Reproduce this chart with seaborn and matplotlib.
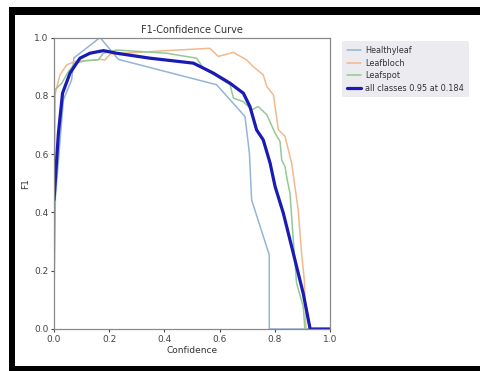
import numpy as np
import matplotlib
matplotlib.use('Agg')
import matplotlib.pyplot as plt
import pandas as pd
import seaborn as sns
from matplotlib.patches import Rectangle

# 读取的数据点 (置信度, F1)
healthy_x = [0.0, 0.005, 0.034, 0.064, 0.072, 0.167, 0.233, 0.589, 0.692, 0.708, 0.716, 0.780, 0.780, 1.0]
healthy_y = [0.10, 0.45, 0.786, 0.855, 0.930, 1.0, 0.925, 0.838, 0.729, 0.603, 0.443, 0.254, 0.0, 0.0]

bloch_x = [0.0, 0.003, 0.010, 0.022, 0.046, 0.076, 0.118, 0.167, 0.185, 0.203, 0.408, 0.565, 0.595, 0.650,
           0.698, 0.722, 0.758, 0.771, 0.795, 0.813, 0.837, 0.861, 0.885, 0.897, 0.907, 0.913, 1.0]
bloch_y = [0.60, 0.80, 0.83, 0.872, 0.906, 0.918, 0.920, 0.925, 0.923, 0.943, 0.955, 0.963, 0.935, 0.949,
           0.923, 0.900, 0.872, 0.832, 0.803, 0.683, 0.661, 0.569, 0.408, 0.260, 0.168, 0.0, 0.0]

spot_x = [0.0, 0.003, 0.028, 0.052, 0.076, 0.118, 0.160, 0.179, 0.227, 0.408, 0.517, 0.541, 0.638, 0.650,
          0.686, 0.716, 0.740, 0.771, 0.801, 0.819, 0.825, 0.837, 0.845, 0.855, 0.867, 0.879, 0.903, 0.909, 1.0]
spot_y = [0.0, 0.82, 0.843, 0.883, 0.912, 0.921, 0.923, 0.946, 0.957, 0.946, 0.929, 0.895, 0.838, 0.792,
          0.780, 0.752, 0.763, 0.735, 0.672, 0.643, 0.580, 0.557, 0.511, 0.466, 0.305, 0.157, 0.077, 0.0, 0.0]

all_x = [0.0, 0.016, 0.031, 0.058, 0.094, 0.130, 0.179, 0.227, 0.348, 0.505, 0.577, 0.638, 0.686, 0.710,
         0.734, 0.758, 0.783, 0.801, 0.831, 0.867, 0.903, 0.928, 1.0]
all_y = [0.443, 0.672, 0.809, 0.878, 0.929, 0.946, 0.955, 0.946, 0.929, 0.912, 0.878, 0.843, 0.809, 0.763,
         0.683, 0.649, 0.569, 0.489, 0.397, 0.260, 0.122, 0.0, 0.0]

labels = ['Healthyleaf', 'Leafbloch', 'Leafspot', 'all classes 0.95 at 0.184']
colors = ['#93b5d6', '#f2b98c', '#93c994', '#1a1ab4']
widths = [1.1, 1.1, 1.1, 2.3]

series = [(healthy_x, healthy_y), (bloch_x, bloch_y), (spot_x, spot_y), (all_x, all_y)]

sns.set_theme(style="white")
plt.rcParams['font.family'] = ['DejaVu Sans']

fig = plt.figure(figsize=(4.81, 3.71), dpi=100)
fig.patch.set_facecolor('white')

# 截图的黑色边框
fig.add_artist(Rectangle((9 / 481, 0), 1, (371 - 7) / 371, transform=fig.transFigure,
                         facecolor='black', edgecolor='none', zorder=-2))
fig.add_artist(Rectangle((15 / 481, 5 / 371), 1, (366 - 15) / 371, transform=fig.transFigure,
                         facecolor='white', edgecolor='none', zorder=-1))

ax = fig.add_axes([54 / 481, 42 / 371, 276 / 481, 291.5 / 371])

for (xs, ys), lab, col, lw in zip(series, labels, colors, widths):
    df = pd.DataFrame({'Confidence': xs, 'F1': ys})
    sns.lineplot(x='Confidence', y='F1', data=df, ax=ax, sort=False, estimator=None,
                 color=col, linewidth=lw, label=lab)

ax.set_xlim(0, 1)
ax.set_ylim(0, 1)
ax.set_xticks([0, 0.2, 0.4, 0.6, 0.8, 1.0])
ax.set_yticks([0, 0.2, 0.4, 0.6, 0.8, 1.0])
ax.set_xticklabels(['0.0', '0.2', '0.4', '0.6', '0.8', '1.0'])
ax.set_yticklabels(['0.0', '0.2', '0.4', '0.6', '0.8', '1.0'])
ax.tick_params(axis='both', labelsize=6.5, colors='#444444', length=2.5, width=0.8, direction='out',
               bottom=True, left=True, pad=1.5)
for s in ax.spines.values():
    s.set_color('#8a8a8a')
    s.set_linewidth(0.9)

ax.set_title('F1-Confidence Curve', fontsize=7, color='#333333', pad=3)
ax.set_xlabel('Confidence', fontsize=6.5, color='#333333', labelpad=2)
ax.set_ylabel('F1', fontsize=6.5, color='#333333', labelpad=3)

leg = ax.legend(loc='upper left', bbox_to_anchor=(1.035, 0.995), fontsize=5.9, frameon=True,
                facecolor='#ebebf0', edgecolor='none', framealpha=1, handlelength=1.7,
                borderpad=0.55, labelspacing=0.45, handletextpad=0.6, borderaxespad=0.3)
for t in leg.get_texts():
    t.set_color('#333333')

plt.savefig('out.png', dpi=100)
